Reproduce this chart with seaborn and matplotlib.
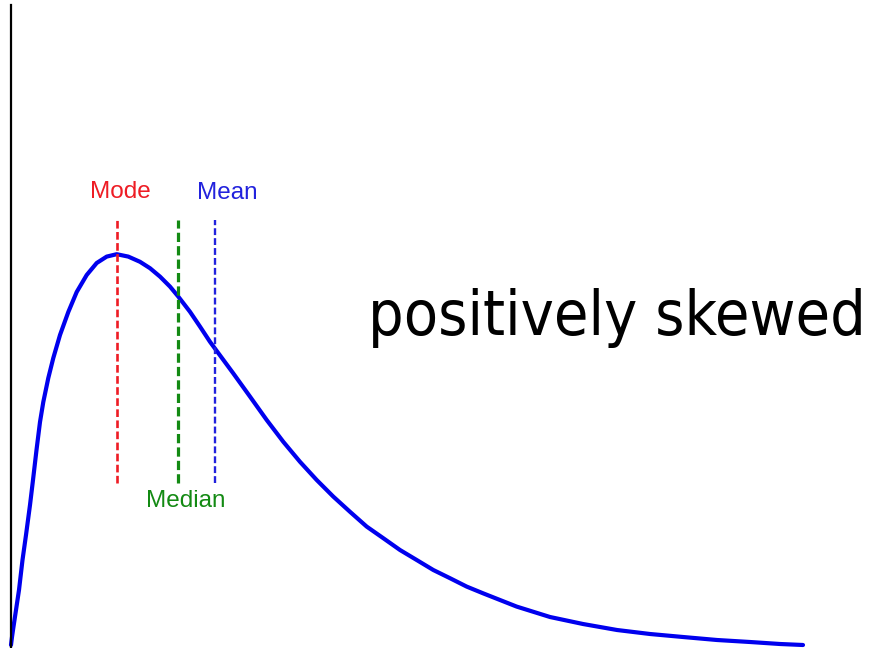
import matplotlib
matplotlib.use("Agg")
import matplotlib.pyplot as plt
import seaborn as sns
import pandas as pd

# Density curve of a right-skewed distribution
curve_x = [0.000, 0.010, 0.020, 0.050, 0.080, 0.115, 0.150, 0.190, 0.220, 0.255,
           0.290, 0.323, 0.373, 0.423, 0.490, 0.573, 0.657, 0.757, 0.857, 0.957,
           1.057, 1.173, 1.290, 1.390, 1.490, 1.590, 1.673, 1.790, 1.890, 1.990,
           2.040, 2.223, 2.390, 2.557, 2.723, 2.890, 3.057, 3.223, 3.390, 3.557,
           3.723, 3.890, 4.057, 4.223, 4.390, 4.557, 4.723, 4.890, 5.057, 5.390,
           5.720, 6.060, 6.390, 6.720, 7.060, 7.390, 7.690, 7.920]
curve_y = [0.000, 0.020, 0.0375, 0.0875, 0.1375, 0.2125, 0.275, 0.350, 0.4125, 0.4875,
           0.5575, 0.6075, 0.6675, 0.7175, 0.775, 0.8325, 0.8825, 0.925, 0.955, 0.971,
           0.977, 0.971, 0.958, 0.942, 0.921, 0.896, 0.871, 0.833, 0.796, 0.758,
           0.741, 0.679, 0.621, 0.5625, 0.508, 0.458, 0.4125, 0.371, 0.333, 0.296,
           0.267, 0.2375, 0.2125, 0.1875, 0.167, 0.146, 0.129, 0.1125, 0.096, 0.070,
           0.0525, 0.0375, 0.0275, 0.020, 0.0125, 0.0075, 0.0025, 0.000]

# Summary statistics of the distribution
stat_names = ["Mode", "Median", "Mean"]
stat_x = [1.06, 1.67, 2.04]
stat_colors = ["#ee1c24", "#138a13", "#2222dd"]

df = pd.DataFrame({"x": curve_x, "density": curve_y})

sns.set_style("white")
fig = plt.figure(figsize=(8.7, 6.48), dpi=100)
ax = fig.add_axes([11 / 870, 0, 859 / 870, 643 / 648])

sns.lineplot(data=df, x="x", y="density", ax=ax, color="#0000ee",
             linewidth=3.0, clip_on=False, sort=False)

ax.set_xlim(0, 8.59)
ax.set_ylim(-0.0075, 1.6)

widths = [1.9, 2.3, 1.7]
for xv, col, lw in zip(stat_x, stat_colors, widths):
    ax.plot([xv, xv], [0.405, 1.0625], color=col, linewidth=lw,
            linestyle=(0, (2.9, 1.3)))

label_font = dict(fontsize=17.5, family="Liberation Sans", ha="center", va="center")
ax.text(stat_x[0] + 0.03, 1.1325, "Mode", color=stat_colors[0], **label_font)
ax.text(stat_x[2] + 0.12, 1.130, "Mean", color=stat_colors[2], **label_font)
ax.text(stat_x[1] + 0.08, 0.360, "Median", color=stat_colors[1], **label_font)

ax.text(6.06, 0.775, "positively skewed", color="black", ha="center",
        va="baseline", fontsize=45, family="DejaVu Sans", fontstretch="condensed")

ax.set_xticks([])
ax.set_yticks([])
ax.set_xlabel("")
ax.set_ylabel("")
for side in ["top", "right", "bottom"]:
    ax.spines[side].set_visible(False)
ax.spines["left"].set_color("black")
ax.spines["left"].set_linewidth(1.6)

fig.savefig("out.png", dpi=100, facecolor="white")
